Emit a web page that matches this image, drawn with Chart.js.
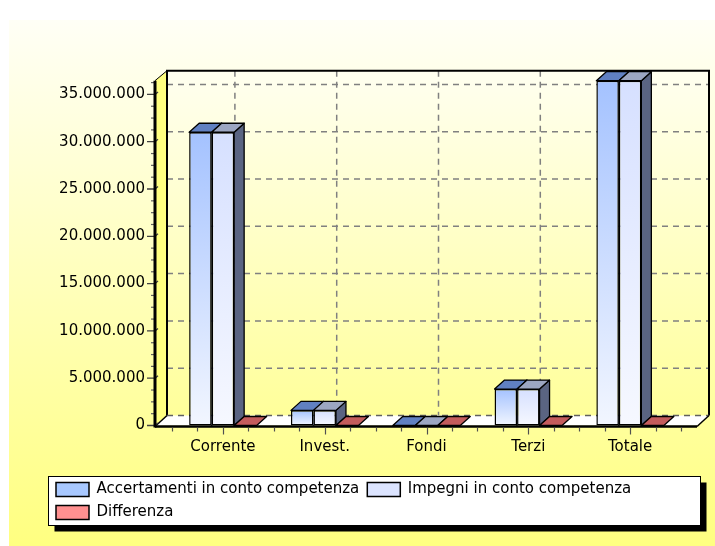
<!DOCTYPE html>
<html><head><meta charset="utf-8">
<script src="https://cdn.jsdelivr.net/npm/chart.js@4/dist/chart.umd.min.js"></script>
<style>html,body{margin:0;padding:0;background:#fff;}#wrap{width:715px;height:546px;}</style>
</head><body><div id="wrap"><canvas id="c" width="715" height="546"></canvas></div>
<script>
// ---- data ----
const categories = ['Corrente', 'Invest.', 'Fondi', 'Terzi', 'Totale'];
const accertamenti = [31000000, 1600000, 0, 3850000, 36450000];
const impegni = [31000000, 1600000, 0, 3850000, 36450000];
const differenza = [0, 0, 0, 0, 0];
const seriesNames = ['Accertamenti in conto competenza', 'Impegni in conto competenza', 'Differenza'];
const majorStep = 5000000;
const minorStep = 1250000;

// ---- styles ----
const FONT = 'DejaVu Sans';
const DX = 12, DY = 10;      // wall depth
const BDX = 10, BDY = 9;     // bar depth
const EXT_L = 17, EXT_R = 16;
const styles = [
  {front: ['#A4C2FF', '#F2F6FF'], legend: '#A8C8FF', top: '#6080C2', side: '#3E5C9A'},
  {front: ['#D6E0FF', '#F6F8FF'], legend: '#DCE4FF', top: '#9CA6C2', side: '#5A6482'},
  {front: ['#FF9090', '#FFE0E0'], legend: '#FF9090', top: '#C45C5C', side: '#8E3A3A'}
];

function fmt(v) { return Math.round(v).toString().replace(/\B(?=(\d{3})+(?!\d))/g, '.'); }

function frontColor(si) {
  return (c) => {
    if (c.type !== 'data') return styles[si].legend;
    const ys = c.chart.scales.y;
    if (!ys) return styles[si].legend;
    const t = ys.getPixelForValue(c.parsed ? c.parsed.y : NaN), b = ys.getPixelForValue(0);
    if (!isFinite(t) || !isFinite(b) || Math.abs(b - t) < 0.5) return styles[si].legend;
    const g = c.chart.ctx.createLinearGradient(0, t, 0, b);
    g.addColorStop(0, styles[si].front[0]);
    g.addColorStop(1, styles[si].front[1]);
    return g;
  };
}

function poly(ctx, pts) {
  ctx.beginPath();
  ctx.moveTo(pts[0][0], pts[0][1]);
  for (let i = 1; i < pts.length; i++) ctx.lineTo(pts[i][0], pts[i][1]);
  ctx.closePath();
}

const threeD = {
  id: 'threeD',
  beforeDraw(chart) {
    const {ctx, chartArea: a, scales: {x, y}} = chart;
    const W = chart.width, H = chart.height;
    ctx.save();
    ctx.fillStyle = '#fff'; ctx.fillRect(0, 0, W, H);
    const g = ctx.createLinearGradient(0, 20, 0, H);
    g.addColorStop(0, '#FFFFF6'); g.addColorStop(1, '#FFFF80');
    ctx.fillStyle = g; ctx.fillRect(9, 20, W - 9, H - 20);

    // legend frame with shadow
    const L = chart.legend;
    const fx = L.left + 0.5, fy = L.top + 2.5, fw = L.width - 1, fh = 49;
    ctx.fillStyle = '#000'; ctx.fillRect(fx + 6, fy + 6, fw, fh);
    ctx.fillStyle = '#fff'; ctx.fillRect(fx, fy, fw, fh);
    ctx.strokeStyle = '#000'; ctx.lineWidth = 1; ctx.strokeRect(fx, fy, fw, fh);

    const fl = a.left - EXT_L, fr = a.right + EXT_R;
    const y0 = y.getPixelForValue(0), yt = a.top;

    // back wall
    const bg = ctx.createLinearGradient(0, yt - DY, 0, y0 - DY);
    bg.addColorStop(0, '#FFFFF0'); bg.addColorStop(1, '#FFFF9A');
    ctx.fillStyle = bg;
    ctx.fillRect(fl + DX, yt - DY, fr - fl, y0 - yt);

    // dashed grid on back wall
    ctx.strokeStyle = '#808080'; ctx.lineWidth = 1.5; ctx.setLineDash([6, 5]);
    y.ticks.forEach(t => {
      if (t.value <= 0) return;
      const py = y.getPixelForValue(t.value) - DY;
      ctx.beginPath(); ctx.moveTo(fl + DX, py); ctx.lineTo(fr + DX, py); ctx.stroke();
    });
    categories.forEach((c, i) => {
      const px = x.getPixelForValue(i) + DX;
      ctx.beginPath(); ctx.moveTo(px, yt - DY); ctx.lineTo(px, y0 - DY); ctx.stroke();
    });
    ctx.setLineDash([]);

    // back wall border
    ctx.strokeStyle = '#000'; ctx.lineWidth = 2;
    ctx.beginPath();
    ctx.moveTo(fl + DX, y0 - DY); ctx.lineTo(fl + DX, yt - DY);
    ctx.lineTo(fr + DX, yt - DY); ctx.lineTo(fr + DX, y0 - DY);
    ctx.stroke();

    // left wall
    poly(ctx, [[fl, yt], [fl + DX, yt - DY], [fl + DX, y0 - DY], [fl, y0]]);
    ctx.fillStyle = '#FFFF80'; ctx.fill();
    ctx.lineWidth = 1; ctx.strokeStyle = '#000';
    ctx.beginPath(); ctx.moveTo(fl, yt); ctx.lineTo(fl + DX, yt - DY); ctx.stroke();
    ctx.lineWidth = 2;
    ctx.beginPath(); ctx.moveTo(fl + DX, yt - DY); ctx.lineTo(fl + DX, y0 - DY); ctx.stroke();

    // floor
    poly(ctx, [[fl, y0], [fr, y0], [fr + DX, y0 - DY], [fl + DX, y0 - DY]]);
    ctx.fillStyle = '#FFFFFF'; ctx.fill();
    ctx.strokeStyle = '#606060'; ctx.lineWidth = 1.5; ctx.setLineDash([6, 5]);
    ctx.beginPath(); ctx.moveTo(fl + DX, y0 - DY); ctx.lineTo(fr + DX, y0 - DY); ctx.stroke();
    ctx.setLineDash([]);
    ctx.strokeStyle = '#000'; ctx.lineWidth = 1.5;
    ctx.beginPath(); ctx.moveTo(fr, y0 + 1); ctx.lineTo(fr + DX, y0 - DY); ctx.stroke();
    ctx.beginPath(); ctx.moveTo(fl, y0 + 1); ctx.lineTo(fl + DX, y0 - DY); ctx.stroke();
    ctx.restore();
  },
  afterDatasetsDraw(chart) {
    const {ctx, chartArea: a, scales: {x, y}} = chart;
    const W = chart.width, H = chart.height;
    ctx.save();
    ctx.lineJoin = 'round';
    const metas = [0, 1, 2].map(i => chart.getDatasetMeta(i));
    metas.forEach((meta, d) => {
      meta.data.forEach((el, i) => {
        const p = el.getProps(['x', 'y', 'base', 'width'], true);
        const l = p.x - p.width / 2, r = p.x + p.width / 2;
        const t = Math.min(p.y, p.base), b = Math.max(p.y, p.base);
        ctx.save();
        const nxt = metas[d + 1] && metas[d + 1].data[i];
        if (nxt) {
          const q = nxt.getProps(['x', 'y', 'base', 'width'], true);
          const qt = Math.min(q.y, q.base), qb = Math.max(q.y, q.base);
          if (qb - qt > 0.5) {
            ctx.beginPath();
            ctx.rect(0, 0, W, H);
            ctx.rect(q.x - q.width / 2, qt, q.width, qb - qt);
            ctx.clip('evenodd');
          }
        }
        ctx.strokeStyle = '#000'; ctx.lineWidth = 1.3;
        if (b - t > 0.5) {
          poly(ctx, [[r, t], [r + BDX, t - BDY], [r + BDX, b - BDY], [r, b]]);
          ctx.fillStyle = styles[d].side; ctx.fill(); ctx.stroke();
        }
        poly(ctx, [[l, t], [r, t], [r + BDX, t - BDY], [l + BDX, t - BDY]]);
        ctx.fillStyle = styles[d].top; ctx.fill(); ctx.stroke();
        ctx.restore();
      });
    });

    const fl = a.left - EXT_L, fr = a.right + EXT_R;
    const y0 = y.getPixelForValue(0), yt = a.top;
    // floor front edge
    ctx.strokeStyle = '#000'; ctx.lineWidth = 2.5;
    ctx.beginPath(); ctx.moveTo(fl, y0 + 1); ctx.lineTo(fr, y0 + 1); ctx.stroke();
    // x ticks
    const cw = x.getPixelForValue(1) - x.getPixelForValue(0);
    ctx.strokeStyle = '#505050'; ctx.lineWidth = 1.2;
    categories.forEach((c, i) => {
      const cx = x.getPixelForValue(i);
      for (let k = (i === 0 ? -2 : -1); k <= 2; k++) {
        const px = Math.round(cx + k * cw / 4) + 0.5;
        const len = k === 0 ? 7 : 4;
        ctx.beginPath(); ctx.moveTo(px, y0 + 2); ctx.lineTo(px, y0 + 2 + len); ctx.stroke();
      }
    });
    // y minor/major ticks
    const ymax = y.max;
    for (let v = 0; v <= ymax + 1; v += minorStep) {
      const py = y.getPixelForValue(v);
      ctx.beginPath();
      if (v % majorStep === 0) {
        ctx.strokeStyle = '#404040'; ctx.lineWidth = 1.3;
        ctx.moveTo(fl - 8, py); ctx.lineTo(fl, py); ctx.lineTo(fl + 3, py - 2.5);
      } else {
        ctx.strokeStyle = '#606060'; ctx.lineWidth = 1.2;
        ctx.moveTo(fl - 4, py); ctx.lineTo(fl, py);
      }
      ctx.stroke();
    }
    // y axis line
    ctx.strokeStyle = '#000'; ctx.lineWidth = 3;
    ctx.beginPath(); ctx.moveTo(fl, yt); ctx.lineTo(fl, y0 + 2); ctx.stroke();
    ctx.restore();
  }
};

const allValues = accertamenti.concat(impegni, differenza);

new Chart(document.getElementById('c'), {
  type: 'bar',
  data: {
    labels: categories,
    datasets: [
      {label: seriesNames[0], data: accertamenti, backgroundColor: frontColor(0), borderColor: '#000', borderWidth: 1.5, borderSkipped: false},
      {label: seriesNames[1], data: impegni, backgroundColor: frontColor(1), borderColor: '#000', borderWidth: 1.5, borderSkipped: false},
      {label: seriesNames[2], data: differenza, backgroundColor: frontColor(2), borderColor: '#000', borderWidth: 1.5, borderSkipped: false}
    ]
  },
  options: {
    responsive: false,
    animation: false,
    devicePixelRatio: 1,
    events: [],
    categoryPercentage: 0.663,
    barPercentage: 1.0,
    layout: {padding: {left: 48, right: 14, top: 80.7, bottom: 16}},
    scales: {
      x: {
        grid: {display: false, drawTicks: false},
        border: {display: false},
        ticks: {color: '#000', font: {family: FONT, size: 15}, padding: 13, maxRotation: 0, autoSkip: false},
        afterFit(s) { s.height = 48.5; }
      },
      y: {
        min: 0,
        max: Math.max(...allValues),
        grid: {display: false, drawTicks: false},
        border: {display: false},
        ticks: {color: '#000', font: {family: FONT, size: 15}, padding: 27, autoSkip: false,
                callback: (v) => fmt(v)},
        afterBuildTicks(s) {
          const t = [];
          for (let v = 0; v <= s.max; v += majorStep) t.push({value: v});
          s.ticks = t;
        },
        afterFit(s) { s.width = 124; }
      },
      yR: {
        position: 'right', display: true,
        grid: {display: false, drawTicks: false},
        border: {display: false},
        ticks: {display: false},
        afterFit(s) { s.width = 20; }
      }
    },
    plugins: {
      legend: {
        position: 'bottom', align: 'start',
        labels: {
          boxWidth: 33, boxHeight: 14, padding: 8, color: '#000', font: {family: FONT, size: 15},
          generateLabels(chart) {
            return chart.data.datasets.map((ds, i) => ({
              text: ds.label, fillStyle: styles[i].legend, strokeStyle: '#000', lineWidth: 1.5,
              fontColor: '#000', hidden: false, datasetIndex: i
            }));
          }
        }
      },
      tooltip: {enabled: false}
    }
  },
  plugins: [threeD]
});
</script>
</body></html>
